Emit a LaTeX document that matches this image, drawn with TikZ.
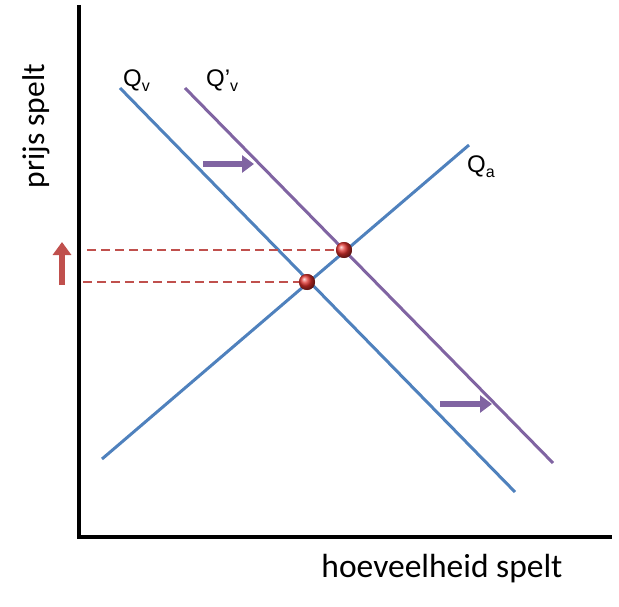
\documentclass[tikz,border=0pt]{standalone}
\usepackage{fontspec}
\setmainfont{Carlito}
\newfontfamily\qfont{Liberation Sans}
\usetikzlibrary{arrows.meta}
\definecolor{cblue}{HTML}{4F81BD}
\definecolor{cpurple}{HTML}{8064A2}
\definecolor{cred}{HTML}{C0504D}
\definecolor{cball}{HTML}{E0302C}
\tikzset{
  axisline/.style={line width=4pt, black},
  bluecurve/.style={line width=3pt, cblue},
  purplecurve/.style={line width=3pt, cpurple},
  guide/.style={cred, line width=1.6pt, dash pattern=on 9pt off 5pt},
  eqball/.style={circle, minimum size=16pt, inner sep=0pt, shading=ball, ball color=cball},
  shiftarrow/.style={line width=6pt, cpurple, -{Triangle[length=12pt,width=17pt]}},
  uparrow/.style={line width=6pt, cred, -{Triangle[length=13pt,width=18pt]}},
  qlabel/.style={anchor=base west, inner sep=0pt, font=\qfont\fontsize{24}{24}\selectfont},
  axislabel/.style={inner sep=0pt}
}
\newcommand{\qsub}[1]{\raisebox{-5pt}{\fontsize{16}{16}\selectfont #1}}
\begin{document}
\begin{tikzpicture}[x=1pt,y=-1pt]
\useasboundingbox (0,0) rectangle (619,607);
% axes
\coordinate (ytop) at (79,5);
\coordinate (origin) at (79,537);
\coordinate (xend) at (612,537);
\draw[axisline] (ytop) -- (origin) -- (xend);
% curves
\coordinate (qv1) at (120,88);
\coordinate (qv2) at (515,492);
\coordinate (qvp1) at (185,88);
\coordinate (qvp2) at (553,463);
\coordinate (qa1) at (102,459);
\coordinate (qa2) at (469,145);
\draw[bluecurve] (qa1) -- (qa2);
\draw[bluecurve] (qv1) -- (qv2);
\draw[purplecurve] (qvp1) -- (qvp2);
% equilibria and guides
\coordinate (g1s) at (87,250);
\coordinate (g2s) at (83,282);
\node[eqball] (e2) at (344,250) {};
\node[eqball] (e1) at (307,282) {};
\draw[guide] (g1s) -- (e2.west);
\draw[guide] (g2s) -- (e1.west);
\node[eqball] at (e2) {};
\node[eqball] at (e1) {};
% arrows
\coordinate (a1s) at (203,164);
\coordinate (a1e) at (254,164);
\coordinate (a2s) at (440,404);
\coordinate (a2e) at (492,404);
\draw[shiftarrow] (a1s) -- (a1e);
\draw[shiftarrow] (a2s) -- (a2e);
\coordinate (ups) at (62,285);
\coordinate (upe) at (62,242);
\draw[uparrow] (ups) -- (upe);
% labels
\node[qlabel] (lqv) at (123,87) {Q\qsub{v}};
\node[qlabel] (lqvp) at (206,87) {Q’\qsub{v}};
\node[qlabel] (lqa) at (467,173) {Q\qsub{a}};
\node[axislabel, rotate=90, font=\fontsize{31.5}{31.5}\selectfont] (ylab) at (36,126) {prijs spelt};
\node[axislabel, anchor=base, font=\fontsize{33.5}{33.5}\selectfont] (xlab) at (442,577) {hoeveelheid spelt};
\end{tikzpicture}
\end{document}
